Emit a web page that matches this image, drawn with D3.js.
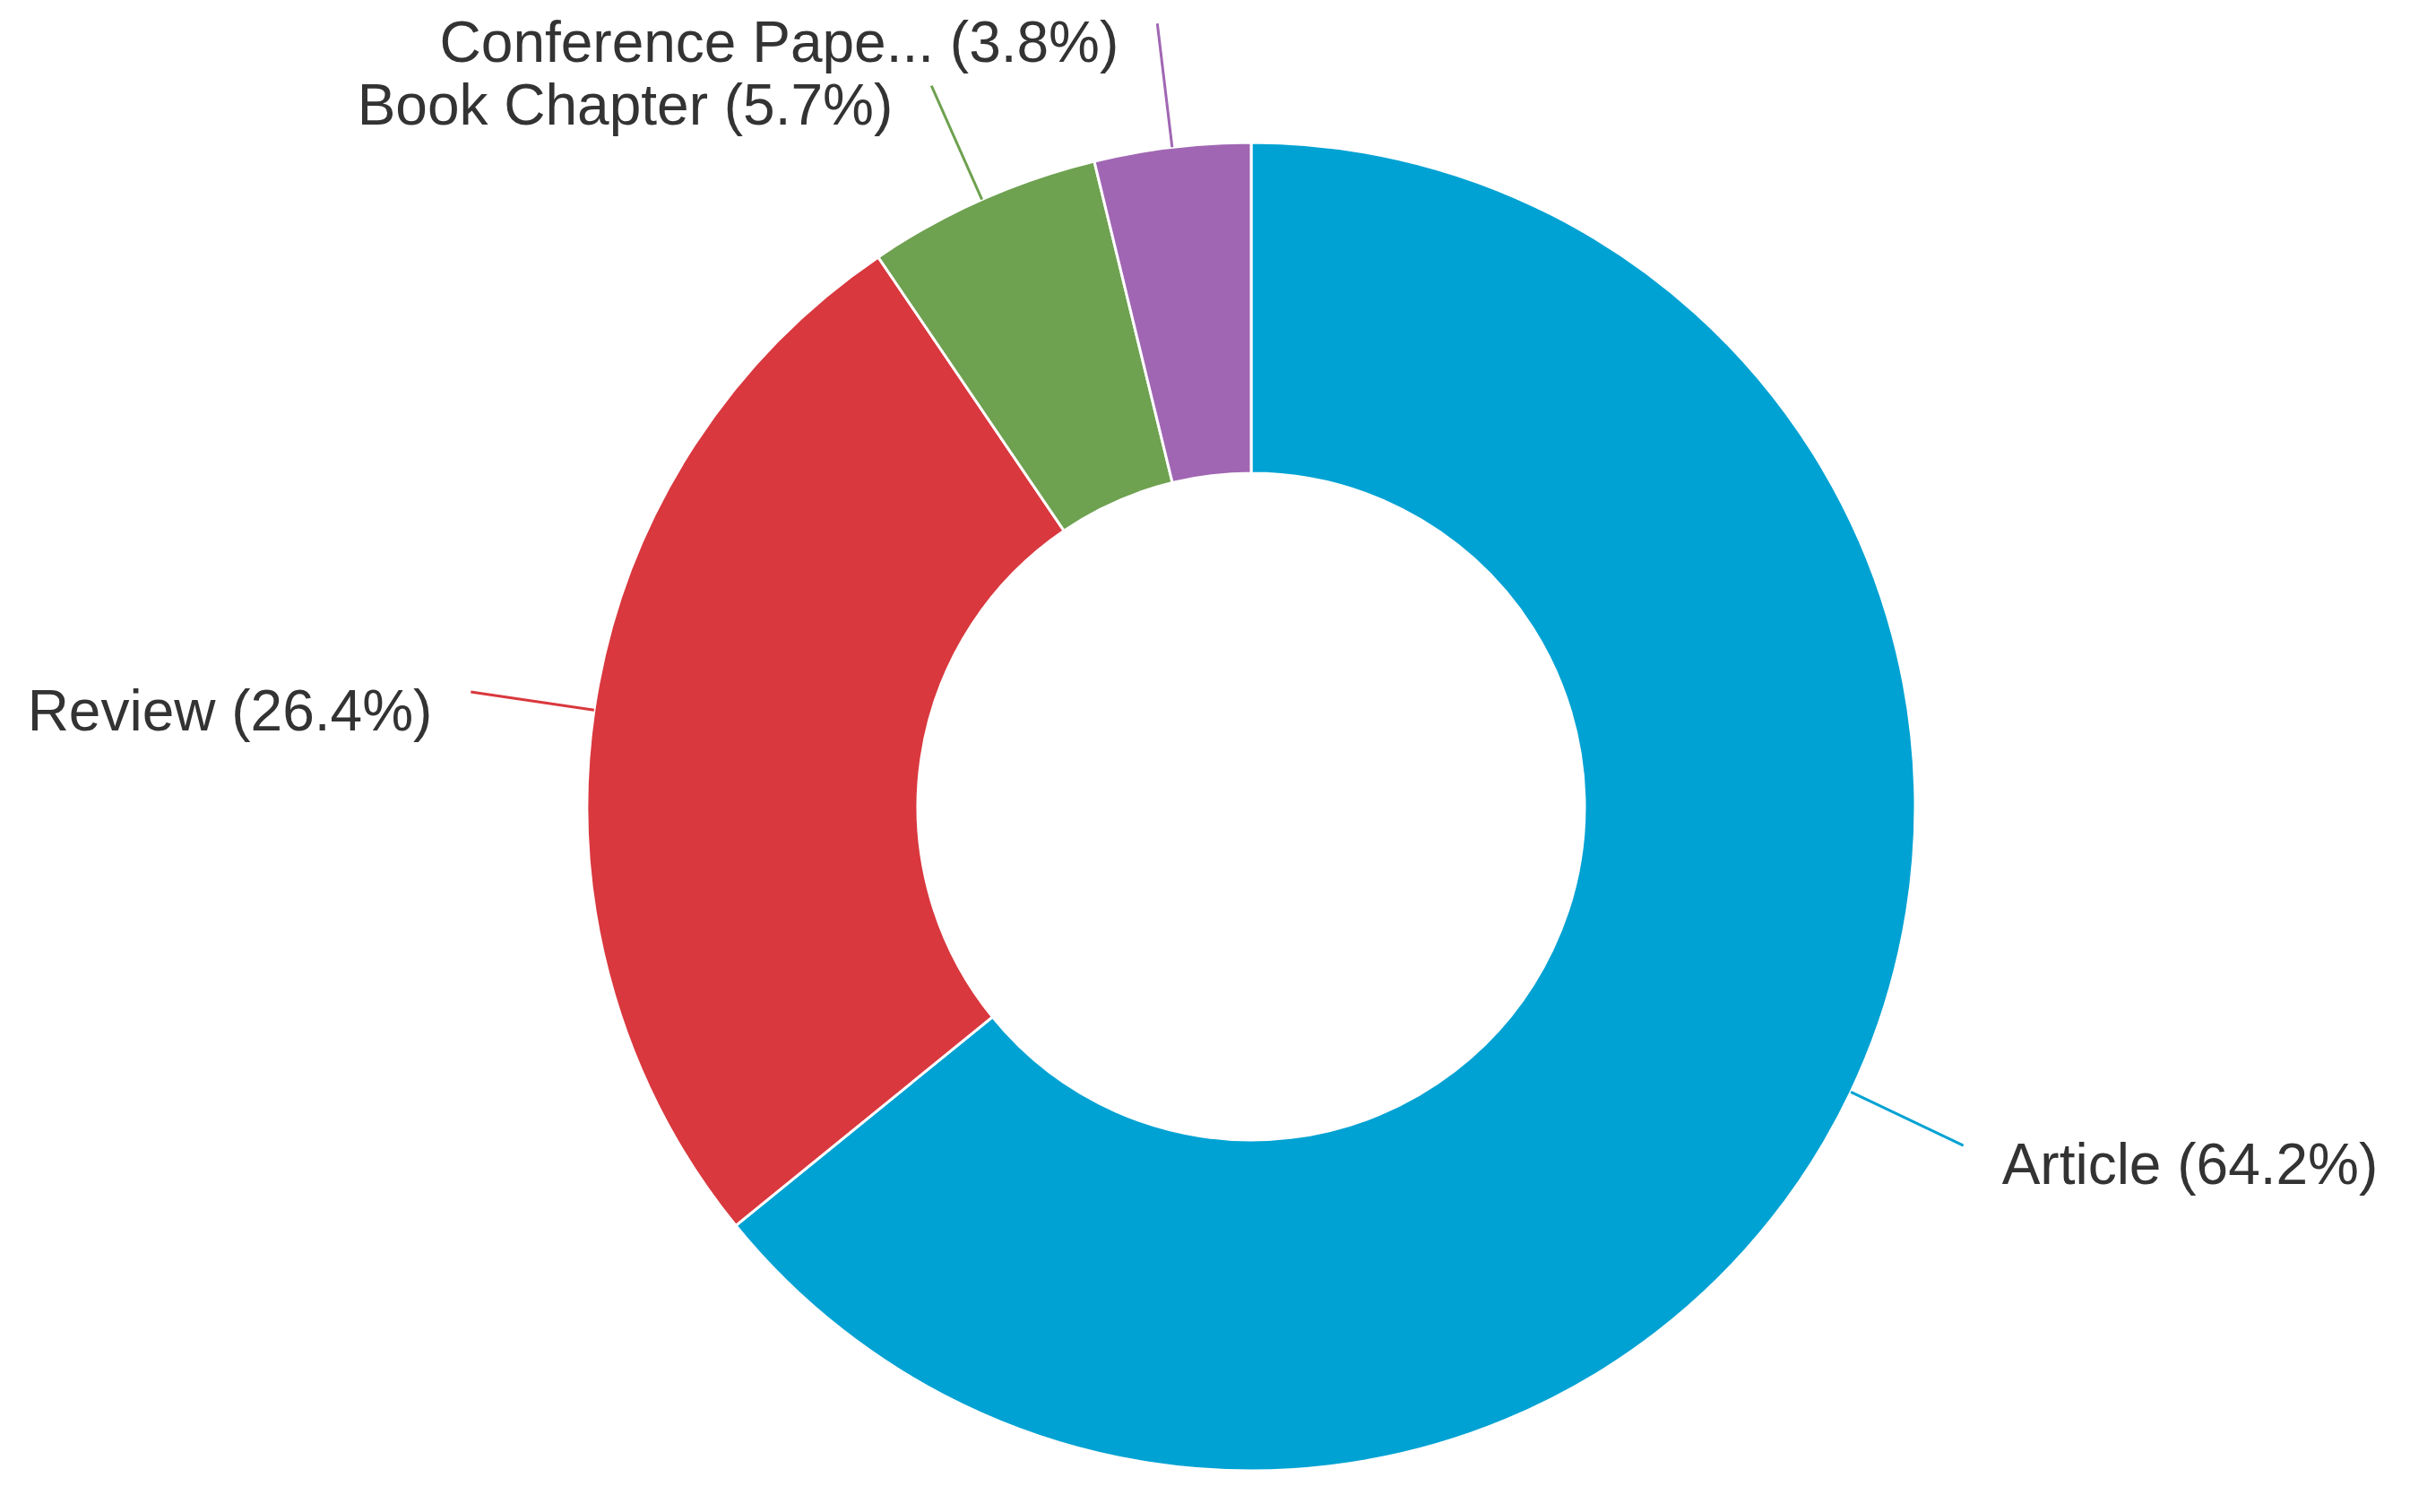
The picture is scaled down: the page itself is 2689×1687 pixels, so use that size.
<!DOCTYPE html>
<html>
<head>
<meta charset="utf-8">
<title>Document types</title>
<script src="https://d3js.org/d3.v7.min.js"></script>
<style>
  body { margin: 0; background: #fff; }
</style>
</head>
<body>
<div id="chart"></div>
<script>
// data
var categories = ["Article", "Review", "Book Chapter", "Conference Pape..."];
var shares = [64.2, 26.4, 5.7, 3.8];
var colors = ["#00a2d3", "#d9383e", "#6ea150", "#a066b3"];

var width = 2689, height = 1687;
var cx = 1396, cy = 900;
var outerR = 741, innerR = 372, lineR = 880, off = 43;

var svg = d3.select("#chart").append("svg")
    .attr("width", width)
    .attr("height", height);
var g = svg.append("g").attr("transform", "translate(" + cx + "," + cy + ")");

var data = categories.map(function(c, i) { return {name: c, value: shares[i], color: colors[i]}; });

var pie = d3.pie().sort(null).value(function(d) { return d.value; });
var arc = d3.arc().innerRadius(innerR).outerRadius(outerR);
var arcs = pie(data);

g.selectAll("path.slice")
  .data(arcs)
  .enter().append("path")
    .attr("class", "slice")
    .attr("d", arc)
    .style("fill", function(d) { return d.data.color; })
    .style("stroke", "#fff")
    .style("stroke-width", 3);

function pt(a, r) { return [r * Math.sin(a), -r * Math.cos(a)]; }

arcs.forEach(function(d) {
  var mid = (d.startAngle + d.endAngle) / 2;
  var p0 = pt(mid, outerR), p1 = pt(mid, lineR);
  var right = Math.sin(mid) > 0;
  g.append("line")
    .attr("x1", p0[0]).attr("y1", p0[1])
    .attr("x2", p1[0]).attr("y2", p1[1])
    .style("stroke", d.data.color)
    .style("stroke-width", 3);
  g.append("text")
    .attr("x", p1[0] + (right ? off : -off))
    .attr("y", p1[1] + off)
    .attr("text-anchor", right ? "start" : "end")
    .style("font-family", "'Liberation Sans', Arial, sans-serif")
    .style("font-size", "64px")
    .style("fill", "#333")
    .text(d.data.name + " (" + d.data.value.toFixed(1) + "%)");
});
</script>
</body>
</html>
